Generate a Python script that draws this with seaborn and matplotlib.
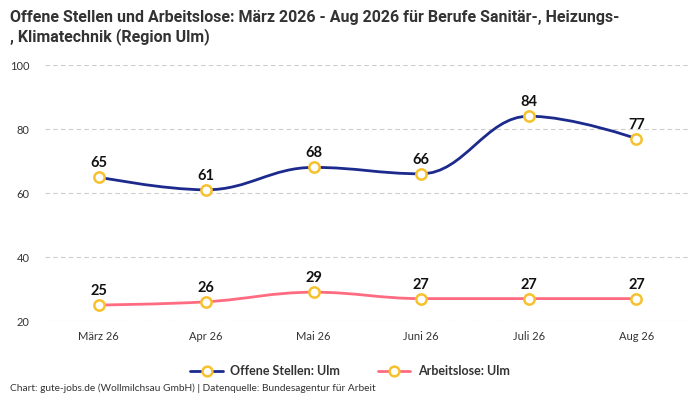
import numpy as np
import pandas as pd
import matplotlib
matplotlib.use("Agg")
import matplotlib.pyplot as plt
from matplotlib.path import Path
from matplotlib.patches import PathPatch
from matplotlib.lines import Line2D
import seaborn as sns

# data
months = ["März 26", "Apr 26", "Mai 26", "Juni 26", "Juli 26", "Aug 26"]
offene_stellen = [65, 61, 68, 66, 84, 77]
arbeitslose = [25, 26, 29, 27, 27, 27]
series_names = ["Offene Stellen: Ulm", "Arbeitslose: Ulm"]

colors = {"Offene Stellen: Ulm": "#1b2a8c", "Arbeitslose: Ulm": "#ff6b81"}
marker_edge = "#f7c12e"

sns.set_theme(style="white")
plt.rcParams["font.family"] = ["Lato", "DejaVu Sans"]

df = pd.DataFrame({
    "Monat": months * 2,
    "x": list(range(len(months))) * 2,
    "Wert": offene_stellen + arbeitslose,
    "Serie": [series_names[0]] * len(months) + [series_names[1]] * len(months),
})


def spline_path(xs, ys, smoothing=1.5):
    # Highcharts style spline control points
    n = len(xs)
    d = smoothing + 1
    verts = [(xs[0], ys[0])]
    codes = [Path.MOVETO]
    right_prev = (xs[0], ys[0])
    for i in range(1, n):
        x, y = xs[i], ys[i]
        if i < n - 1:
            lx, ly = xs[i - 1], ys[i - 1]
            nx, ny = xs[i + 1], ys[i + 1]
            lcx = (smoothing * x + lx) / d
            lcy = (smoothing * y + ly) / d
            rcx = (smoothing * x + nx) / d
            rcy = (smoothing * y + ny) / d
            if rcx != lcx:
                corr = (rcy - lcy) * (rcx - x) / (rcx - lcx) + y - rcy
                lcy += corr
                rcy += corr
            if lcy > max(ly, y):
                lcy = max(ly, y)
                rcy = 2 * y - lcy
            elif lcy < min(ly, y):
                lcy = min(ly, y)
                rcy = 2 * y - lcy
            if rcy > max(y, ny):
                rcy = max(y, ny)
                lcy = 2 * y - rcy
            elif rcy < min(y, ny):
                rcy = min(y, ny)
                lcy = 2 * y - rcy
            left_c = (lcx, lcy)
            right_c = (rcx, rcy)
        else:
            left_c = (x, y)
            right_c = (x, y)
        verts += [right_prev, left_c, (x, y)]
        codes += [Path.CURVE4] * 3
        right_prev = right_c
    return Path(verts, codes)


fig = plt.figure(figsize=(7, 4), dpi=100)
ax = fig.add_axes([0.064, 0.1975, 0.922, 0.64])

for name in series_names:
    sub = df[df["Serie"] == name]
    p = spline_path(sub["x"].tolist(), sub["Wert"].tolist())
    ax.add_patch(PathPatch(p, facecolor="none", edgecolor=colors[name], lw=2, zorder=2))

sns.scatterplot(data=df, x="x", y="Wert", ax=ax, color="white", edgecolor=marker_edge,
                linewidth=1.8, s=55, zorder=3, legend=False)

for _, r in df.iterrows():
    ax.annotate(str(r["Wert"]), (r["x"], r["Wert"]), xytext=(0, 5), textcoords="offset points",
                ha="center", va="bottom", fontsize=10.5, fontweight="bold", color="#111111")

ax.set_xlim(-0.5, len(months) - 0.5)
ax.set_ylim(20, 100)
ax.set_yticks([20, 40, 60, 80, 100])
ax.set_xticks(range(len(months)))
ax.set_xticklabels(months)
ax.set_xlabel("")
ax.set_ylabel("")
ax.tick_params(axis="both", length=0, labelsize=8, colors="#333333")
ax.tick_params(axis="y", pad=11)
ax.tick_params(axis="x", pad=7)
ax.grid(axis="y", color="#cccccc", linestyle=(0, (4, 3)), linewidth=0.8)
sns.despine(ax=ax, left=True, bottom=True)

handles = [Line2D([0], [0], color=colors[n], lw=2, marker="o", markersize=7,
                  markerfacecolor="white", markeredgecolor=marker_edge, markeredgewidth=1.8)
           for n in series_names]
leg = fig.legend(handles, series_names, loc="center", bbox_to_anchor=(0.5, 0.072), ncol=2,
                 frameon=False, fontsize=9, handlelength=2.6, columnspacing=3, handletextpad=0.6)
for t in leg.get_texts():
    t.set_fontweight("bold")
    t.set_color("#333333")

fig.text(0.014, 0.975, "Offene Stellen und Arbeitslose: März 2026 - Aug 2026 für Berufe Sanitär-, Heizungs-\n, Klimatechnik (Region Ulm)",
         ha="left", va="top", fontsize=11.5, fontweight="bold", color="#333333",
         family=["Roboto", "DejaVu Sans"], linespacing=1.25)
fig.text(0.014, 0.018, "Chart: gute-jobs.de (Wollmilchsau GmbH) | Datenquelle: Bundesagentur für Arbeit",
         ha="left", va="bottom", fontsize=7.3, color="#333333")

fig.savefig("out.png", dpi=100)
